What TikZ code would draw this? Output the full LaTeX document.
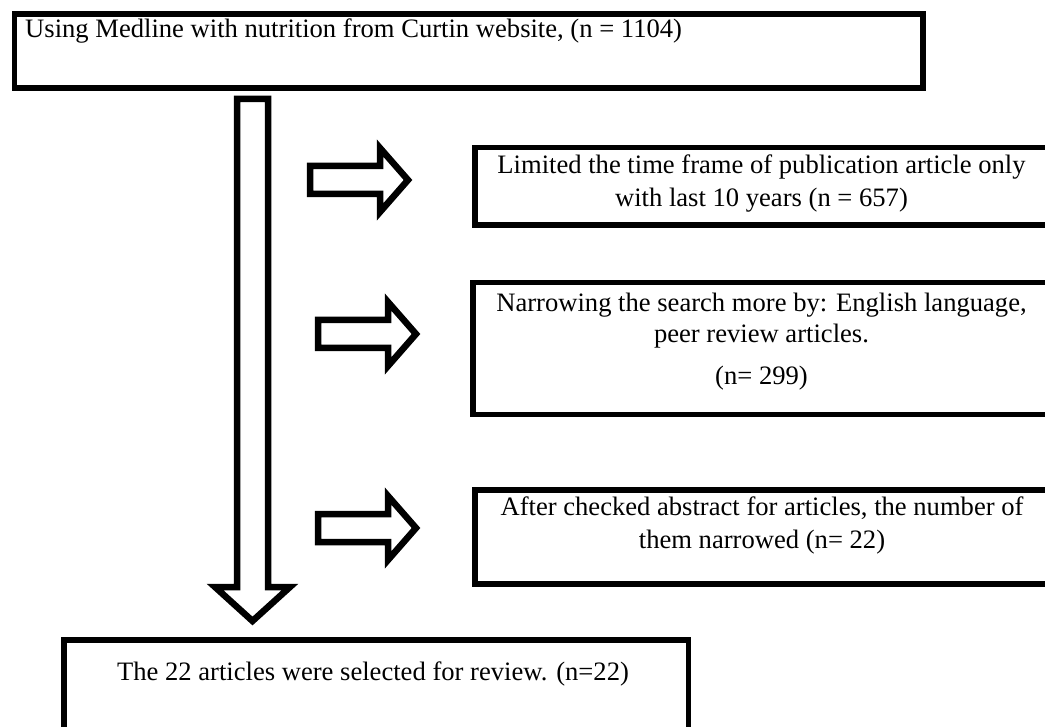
\documentclass[tikz,border=0pt]{standalone}
\usepackage{fontspec}
\setmainfont{Liberation Serif}
\newcommand\topstrut{\rule{0pt}{20pt}}
\begin{document}
\begin{tikzpicture}[x=1pt,y=-1pt,
  boxnode/.style={draw=black, line width=5.5pt, rectangle, inner sep=0pt, anchor=north west},
  blk/.style={draw=black, line width=6.5pt, fill=white, line join=miter},
  txt/.style={font=\fontsize{26.6}{33}\selectfont, inner sep=0pt, align=center, anchor=north},
  rarrow/.pic={\draw[blk] (0,-14) -- (70,-14) -- (70,-32) -- (98,0) -- (70,32) -- (70,14) -- (0,14) -- cycle;}]
\useasboundingbox (0,0) rectangle (1045,727);
\clip (0,0) rectangle (1045,727);
\fill[white] (0,0) rectangle (1045,727);

% boxes
\node[boxnode, minimum width=908.5pt, minimum height=74pt] (top) at (11.5,11.5) {};
\node[boxnode, minimum width=580pt, minimum height=77.5pt] (b1) at (472,145) {};
\node[boxnode, minimum width=582pt, minimum height=132pt] (b2) at (470,280) {};
\node[boxnode, minimum width=580pt, minimum height=94pt] (b3) at (472,487) {};
\node[boxnode, minimum width=624.5pt, minimum height=120pt] (bot) at (61,637) {};

% texts
\node[txt, anchor=north west] (ttop) at (25,17) {\topstrut Using Medline with nutrition from Curtin website, (n = 1104)};
\node[txt] (t1) at (761.5,153) {\topstrut Limited the time frame of publication article only\\ with last 10 years (n = 657)};
\node[txt] (t2) at (761.5,291) {\topstrut Narrowing the search more by: English language,\\[-2pt] peer review articles.\\[9pt] (n= 299)};
\node[txt] (t3) at (762,495) {\topstrut After checked abstract for articles, the number of\\ them narrowed (n= 22)};
\node[txt] (tbot) at (373,660) {\topstrut The 22 articles were selected for review. (n=22)};

% big downward block arrow
\draw[blk] (237,99) -- (268,99) -- (268,587) -- (290,587) -- (252.5,621) -- (215,587) -- (237,587) -- cycle;

% small right block arrows
\pic at (310,180) {rarrow};
\pic at (318,334) {rarrow};
\pic at (318,528) {rarrow};
\end{tikzpicture}
\end{document}
